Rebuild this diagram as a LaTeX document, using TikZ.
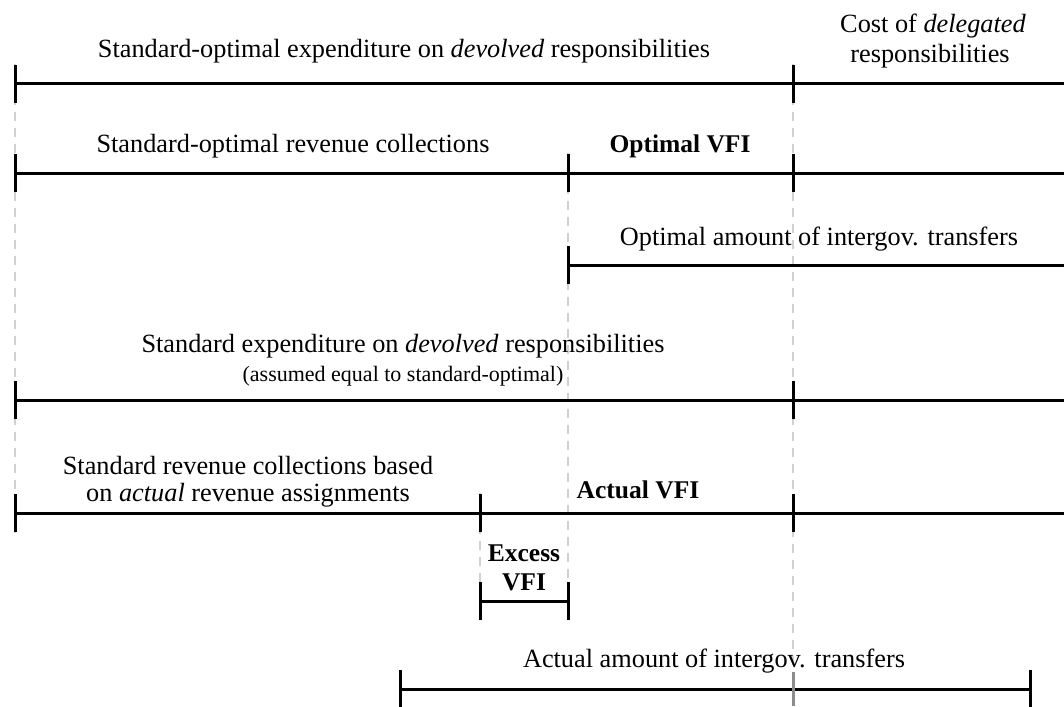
\documentclass[tikz,border=0pt]{standalone}
\usepackage{fontspec}
\setmainfont{Liberation Serif}
\begin{document}
\begin{tikzpicture}[x=1pt,y=-1pt,
  bar/.style={line width=3pt, black},
  tickmark/.style={line width=3pt, black},
  graytick/.style={line width=3pt, black!45},
  guide/.style={line width=2pt, black!18, dash pattern=on 9pt off 7pt},
  lbl/.style={font=\fontsize{26.3}{30}\selectfont, inner sep=0pt, anchor=base, align=center},
  small/.style={font=\fontsize{22}{25}\selectfont, inner sep=0pt, anchor=base},
  bold/.style={font=\fontsize{25.5}{28}\selectfont\bfseries, inner sep=0pt, anchor=base, align=center}]
\useasboundingbox (0,0) rectangle (1064,706);
% guides
\draw[guide] (15,64) -- (15,533);
\draw[guide] (793,64) -- (793,672);
\draw[guide] (568,153) -- (568,620);
\draw[guide] (480,493) -- (480,620);
% coordinates
\coordinate (a1) at (15,84);  \coordinate (a2) at (793,84);  \coordinate (a3) at (1064,84);
\coordinate (b1) at (15,173); \coordinate (b2) at (568,173); \coordinate (b3) at (793,173); \coordinate (b4) at (1064,173);
\coordinate (c1) at (568,265); \coordinate (c2) at (1064,265);
\coordinate (d1) at (15,400); \coordinate (d2) at (793,400); \coordinate (d3) at (1064,400);
\coordinate (e1) at (15,513); \coordinate (e2) at (480,513); \coordinate (e3) at (793,513); \coordinate (e4) at (1064,513);
\coordinate (f1) at (480,601); \coordinate (f2) at (568,601);
\coordinate (g1) at (400,689); \coordinate (g2) at (793,689); \coordinate (g3) at (1030,689);
% bars
\draw[bar] (a1) -- (a3);
\draw[bar] (b1) -- (b4);
\draw[bar] (c1) -- (c2);
\draw[bar] (d1) -- (d3);
\draw[bar] (e1) -- (e4);
\draw[bar] (f1) -- (f2);
\draw[bar] (g1) -- (g3);
% ticks
\foreach \p in {a1,a2,b1,b2,b3,c1,d1,d2,e1,e2,e3,f1,f2,g1,g3}
  \draw[tickmark] ([yshift=-19pt]\p) -- ([yshift=19pt]\p);
\draw[graytick] ([yshift=-17pt]g2) -- ([yshift=17pt]g2);
% labels
\node[lbl] (t1) at (404,58) {Standard-optimal expenditure on \textit{devolved} responsibilities};
\node[lbl] (t2) at (933,33) {Cost of \textit{delegated}};
\node[lbl] (t2b) at (930,63) {responsibilities};
\node[lbl] (t3) at (293,152) {Standard-optimal revenue collections};
\node[bold] (t4) at (680,152) {Optimal VFI};
\node[lbl] (t5) at (819,245) {Optimal amount of intergov. transfers};
\node[lbl] (t6) at (403,352) {Standard expenditure on \textit{devolved} responsibilities};
\node[small] (t6b) at (403,381) {(assumed equal to standard-optimal)};
\node[lbl] (t7) at (248,474) {Standard revenue collections based};
\node[lbl] (t7b) at (248,501) {on \textit{actual} revenue assignments};
\node[bold] (t8) at (638,498) {Actual VFI};
\node[bold] (t9) at (524,561) {Excess};
\node[bold] (t9b) at (524,590) {VFI};
\node[lbl] (t10) at (714,667) {Actual amount of intergov. transfers};
\end{tikzpicture}
\end{document}
